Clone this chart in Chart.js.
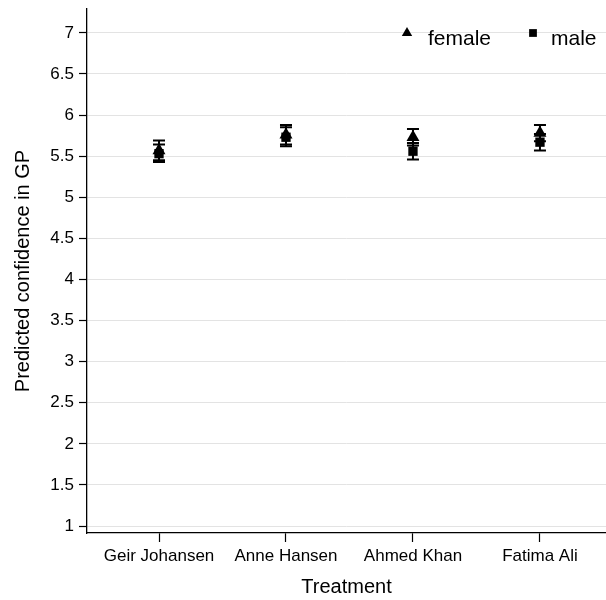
<!DOCTYPE html>
<html>
<head>
<meta charset="utf-8">
<script src="https://cdn.jsdelivr.net/npm/chart.js@4"></script>
<style>
  html, body { margin: 0; padding: 0; background: #fff; }
  #wrap { width: 606px; height: 600px; }
</style>
</head>
<body>
<div id="wrap"><canvas id="chart" width="606" height="600"></canvas></div>
<script>
const categories = ['Geir Johansen', 'Anne Hansen', 'Ahmed Khan', 'Fatima Ali'];
const yTicks = [1, 1.5, 2, 2.5, 3, 3.5, 4, 4.5, 5, 5.5, 6, 6.5, 7];

const female = [5.57, 5.76, 5.73, 5.78];
const femaleLow = [5.45, 5.64, 5.63, 5.68];
const femaleHigh = [5.69, 5.88, 5.83, 5.88];

const male = [5.53, 5.73, 5.56, 5.67];
const maleLow = [5.43, 5.62, 5.46, 5.57];
const maleHigh = [5.64, 5.85, 5.66, 5.77];

const FONT = "'Liberation Sans', Arial, sans-serif";

// error bars, drawn under the points
const errorBars = {
  id: 'errorBars',
  beforeDatasetsDraw(chart) {
    const { ctx, scales: { x, y } } = chart;
    ctx.save();
    ctx.strokeStyle = '#000';
    ctx.lineWidth = 2;
    chart.data.datasets.forEach(ds => {
      ds.low.forEach((lo, i) => {
        const px = x.getPixelForValue(i);
        const y1 = y.getPixelForValue(lo);
        const y2 = y.getPixelForValue(ds.high[i]);
        ctx.beginPath();
        ctx.moveTo(px, y1); ctx.lineTo(px, y2);
        ctx.moveTo(px - 6, y1); ctx.lineTo(px + 6, y1);
        ctx.moveTo(px - 6, y2); ctx.lineTo(px + 6, y2);
        ctx.stroke();
      });
    });
    ctx.restore();
  }
};

// legend inside the plot, top right
const innerLegend = {
  id: 'innerLegend',
  afterDraw(chart) {
    const { ctx } = chart;
    const items = [
      { ds: chart.data.datasets[0], mx: 407, tx: 428 },
      { ds: chart.data.datasets[1], mx: 533, tx: 551 }
    ];
    ctx.save();
    ctx.font = '21px ' + FONT;
    ctx.textBaseline = 'middle';
    items.forEach(it => {
      ctx.fillStyle = '#000';
      Chart.helpers.drawPoint(ctx, {
        pointStyle: it.ds.pointStyle,
        radius: it.ds.pointStyle === 'triangle' ? 6 : 5.5,
        rotation: 0,
        borderWidth: 0
      }, it.mx, 33);
      ctx.fillText(it.ds.label, it.tx, 39);
    });
    ctx.restore();
  }
};

new Chart(document.getElementById('chart'), {
  type: 'scatter',
  data: {
    datasets: [
      {
        label: 'female',
        data: female.map((v, i) => ({ x: i, y: v })),
        low: femaleLow,
        high: femaleHigh,
        pointStyle: 'triangle',
        pointRadius: 7.5,
        backgroundColor: '#000',
        borderColor: '#000',
        borderWidth: 0
      },
      {
        label: 'male',
        data: male.map((v, i) => ({ x: i, y: v })),
        low: maleLow,
        high: maleHigh,
        pointStyle: 'rect',
        pointRadius: 6.6,
        backgroundColor: '#000',
        borderColor: '#000',
        borderWidth: 0
      }
    ]
  },
  options: {
    responsive: false,
    animation: false,
    layout: { autoPadding: false, padding: { top: 9, left: 0, right: 0, bottom: 0 } },
    plugins: {
      legend: { display: false },
      tooltip: { enabled: false }
    },
    scales: {
      x: {
        type: 'linear',
        min: -0.567,
        max: 3.52,
        afterBuildTicks: axis => { axis.ticks = categories.map((_, i) => ({ value: i })); },
        afterFit: axis => { axis.height = 67; axis.paddingLeft = 0; axis.paddingRight = 0; },
        grid: { drawOnChartArea: false, drawTicks: true, tickLength: 9, tickColor: '#000', tickWidth: 1.2 },
        border: { color: '#000', width: 1.3 },
        ticks: {
          color: '#000',
          font: { family: FONT, size: 17 },
          padding: 4,
          maxRotation: 0,
          callback: v => categories[v]
        },
        title: {
          display: true,
          text: 'Treatment',
          color: '#000',
          font: { family: FONT, size: 20 },
          padding: { top: 1, bottom: 1 }
        }
      },
      y: {
        min: 0.915,
        max: 7.29,
        afterBuildTicks: axis => { axis.ticks = yTicks.map(v => ({ value: v })); },
        afterFit: axis => { axis.width = 87; axis.paddingTop = 0; axis.paddingBottom = 0; },
        grid: { color: '#e3e3e3', lineWidth: 1, drawTicks: true, tickLength: 8, tickColor: '#000', tickWidth: 1.2 },
        border: { color: '#000', width: 1.3 },
        ticks: {
          color: '#000',
          font: { family: FONT, size: 17 },
          padding: 5,
          callback: v => String(v)
        },
        title: {
          display: true,
          text: 'Predicted confidence in GP',
          color: '#000',
          font: { family: FONT, size: 20 },
          padding: { top: 11, bottom: 11 }
        }
      }
    }
  },
  plugins: [errorBars, innerLegend]
});
</script>
</body>
</html>
